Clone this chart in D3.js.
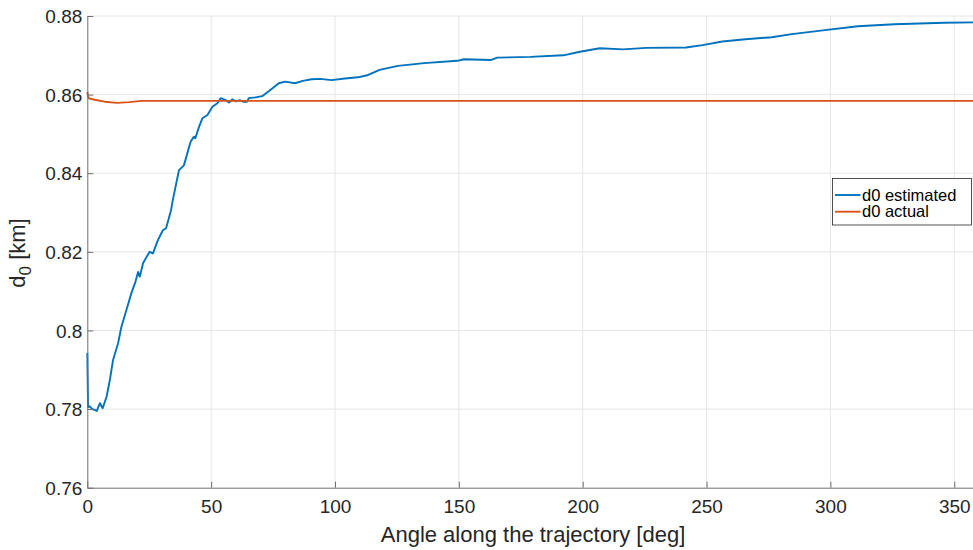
<!DOCTYPE html>
<html>
<head>
<meta charset="utf-8">
<script src="https://cdn.jsdelivr.net/npm/d3@7"></script>
<style>
  body { margin: 0; background: #fff; }
  svg { display: block; font-family: "Liberation Sans", Arial, sans-serif; }
</style>
</head>
<body>
<div id="container"></div>
<script>
// values
const estAngle = [0, 0.3, 1, 2, 3, 3.8, 5.1, 6.2, 7.8, 9.1, 10.4, 12.4, 13.8, 15.8, 17.8, 19.5, 20.5, 21.2, 22.5, 25.1,
  26.5, 28.5, 30.5, 31.8, 33.8, 34.5, 37, 39, 41.7, 43, 43.6, 45.1, 46.5, 48.5, 50.5, 52.5, 53.9, 55.9, 57.2, 58.5,
  60, 61.5, 63, 64.5, 65.2, 68, 70.6, 73.9, 77.3, 79.9, 83.9, 87, 90.6, 94, 98.6, 104, 109.3, 113.4, 118, 125.4,
  136, 149.4, 152.1, 162.8, 165.5, 178.8, 192.2, 198.9, 206.9, 216.3, 225.6, 241.7, 248.4, 256.4, 265.7, 276.4,
  284.4, 297.8, 311.1, 325.8, 345.9, 360];
const estD0 = [0.7943, 0.7805, 0.7807, 0.7800, 0.7798, 0.7795, 0.7815, 0.7802, 0.7832, 0.7874, 0.7925, 0.7967, 0.8010,
  0.8052, 0.8095, 0.8125, 0.8149, 0.8137, 0.8171, 0.8200, 0.8196, 0.8230, 0.8255, 0.8260, 0.8306, 0.8331, 0.8408,
  0.8420, 0.8480, 0.8493, 0.8489, 0.8518, 0.8540, 0.8548, 0.8569, 0.8578, 0.8591, 0.8586, 0.8580, 0.8588, 0.8583,
  0.8586, 0.8582, 0.8582, 0.8591, 0.8593, 0.8596, 0.8612, 0.8629, 0.8633, 0.8629, 0.8635, 0.8639, 0.8640, 0.8637,
  0.8641, 0.8644, 0.8650, 0.8663, 0.8673, 0.8680, 0.8686, 0.8690, 0.8688, 0.8694, 0.8696, 0.8700, 0.8709, 0.8718,
  0.8715, 0.8719, 0.8720, 0.8726, 0.8735, 0.8741, 0.8746, 0.8754, 0.8764, 0.8774, 0.8779, 0.8783, 0.8784];

const actAngle = [0, 0.3, 0.8, 3, 7, 12, 17, 22, 30, 360];
const actD0 = [0.8607, 0.8595, 0.8590, 0.8587, 0.8582, 0.8579, 0.8581, 0.8584, 0.8584, 0.8584];

const xTicks = [0, 50, 100, 150, 200, 250, 300, 350];
const yTicks = [0.76, 0.78, 0.8, 0.82, 0.84, 0.86, 0.88];

const seriesNames = ["d0 estimated", "d0 actual"];
const seriesColors = ["#0072BD", "#D95319"];

const W = 973, H = 550;
const margin = { top: 16, left: 87.3, bottom: 62.3 };
const plotH = H - margin.top - margin.bottom;

const svg = d3.select("#container").append("svg")
    .attr("width", W)
    .attr("height", H);

// the axes box runs past the right edge of the picture (it is cropped there)
const x = d3.scaleLinear().domain([0, 360]).range([margin.left, margin.left + 360 * 2.477]);
const y = d3.scaleLinear().domain([0.76, 0.88]).range([margin.top + plotH, margin.top]);

// grid
svg.append("g").selectAll("line")
    .data(xTicks.slice(1))
  .enter().append("line")
    .attr("x1", d => x(d)).attr("x2", d => x(d))
    .attr("y1", y(0.76)).attr("y2", y(0.88))
    .attr("stroke", "#e6e6e6").attr("stroke-width", 1);

svg.append("g").selectAll("line")
    .data(yTicks.slice(1))
  .enter().append("line")
    .attr("x1", x(0)).attr("x2", W)
    .attr("y1", d => y(d)).attr("y2", d => y(d))
    .attr("stroke", "#e6e6e6").attr("stroke-width", 1);

// lines
const line = d3.line().x(d => x(d[0])).y(d => y(d[1]));

const est = estAngle.map((a, i) => [a, estD0[i]]);
const act = actAngle.map((a, i) => [a, actD0[i]]);

svg.append("path")
    .datum(est)
    .attr("fill", "none")
    .attr("stroke", seriesColors[0])
    .attr("stroke-width", 1.9)
    .attr("stroke-linejoin", "round")
    .attr("d", line);

svg.append("path")
    .datum(act)
    .attr("fill", "none")
    .attr("stroke", seriesColors[1])
    .attr("stroke-width", 1.9)
    .attr("stroke-linejoin", "round")
    .attr("d", line);

// axes (ticks inside, matlab style)
const xAxis = svg.append("g")
    .attr("transform", `translate(0,${y(0.76)})`)
    .call(d3.axisBottom(x).tickValues(xTicks).tickSizeInner(-6).tickSizeOuter(0).tickPadding(12));

const yAxis = svg.append("g")
    .attr("transform", `translate(${x(0)},0)`)
    .call(d3.axisLeft(y).tickValues(yTicks).tickFormat(d => String(+d.toFixed(2))).tickSizeInner(-6).tickSizeOuter(0).tickPadding(5));

[xAxis, yAxis].forEach(g => {
    g.select(".domain").attr("stroke", "#6e6e6e").attr("stroke-width", 1);
    g.selectAll(".tick line").attr("stroke", "#6e6e6e");
    g.selectAll(".tick text")
        .attr("fill", "#262626")
        .style("font-size", "19px")
        .style("font-family", "'Liberation Sans', Arial, sans-serif");
});
yAxis.selectAll(".tick text").attr("dy", "0.35em");

// axis labels
svg.append("text")
    .attr("x", 533)
    .attr("y", 542)
    .attr("text-anchor", "middle")
    .attr("fill", "#262626")
    .style("font-size", "22px")
    .text("Angle along the trajectory [deg]");

const yl = svg.append("text")
    .attr("transform", `translate(25,${253}) rotate(-90)`)
    .attr("text-anchor", "middle")
    .attr("fill", "#262626")
    .style("font-size", "22px");
yl.append("tspan").text("d");
yl.append("tspan").attr("dy", 6).style("font-size", "17px").text("0");
yl.append("tspan").attr("dy", -6).text(" [km]");

// legend
const lg = svg.append("g").attr("transform", "translate(832.5,178.5)");
lg.append("rect")
    .attr("width", 139).attr("height", 46.5)
    .attr("fill", "#fff")
    .attr("stroke", "#262626").attr("stroke-width", 0.8);

seriesNames.forEach((name, i) => {
    const yy = 16.5 + i * 16.7;
    lg.append("line")
        .attr("x1", 2.5).attr("x2", 28)
        .attr("y1", yy).attr("y2", yy)
        .attr("stroke", seriesColors[i]).attr("stroke-width", 1.9);
    lg.append("text")
        .attr("x", 29.5).attr("y", yy)
        .attr("dy", "0.35em")
        .attr("fill", "#000")
        .style("font-size", "16.5px")
        .text(name);
});
</script>
</body>
</html>
